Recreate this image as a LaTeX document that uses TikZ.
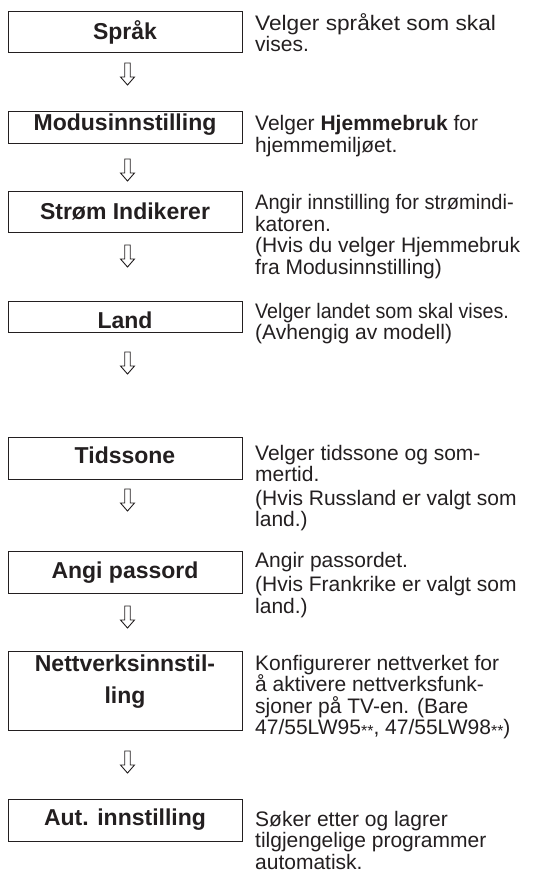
\documentclass[tikz,border=0pt]{standalone}
\usepackage{graphicx}
\usepackage{fontspec}
\setmainfont{Liberation Sans}
\definecolor{ink}{RGB}{35,31,32}
\newcommand\dline[1]{\hbox{#1}}
\newcommand\sx[2]{\scalebox{#1}[1]{#2}}
\newcommand\descfont{\fontsize{21}{21.5}\selectfont}
\newcommand\stars{\raisebox{-2pt}{\fontsize{16}{16}\selectfont **}}
\tikzset{
  stepbox/.style={draw=ink, line width=0.9pt, minimum width=234pt, inner sep=0pt},
  steplabel/.style={anchor=base, inner sep=0pt, text=ink,
    font=\fontsize{23}{32}\selectfont\bfseries},
  desc/.style={anchor=base west, inner sep=0pt, text=ink},
  downarr/.pic={\draw[ink, line width=0.9pt, line join=miter]
    (-2.75,-11) -- (2.75,-11) -- (2.75,3) -- (7,3) -- (0,11) -- (-7,3) -- (-2.75,3) -- cycle;}
}
\begin{document}
\begin{tikzpicture}[x=1pt,y=-1pt]
\useasboundingbox (0,0) rectangle (540,877);
% boxes
\node[stepbox, minimum height=41pt] (b1) at (125,31.5) {};
\node[stepbox, minimum height=32pt] (b2) at (125,127) {};
\node[stepbox, minimum height=41pt] (b3) at (125,211.5) {};
\node[stepbox, minimum height=31pt] (b4) at (125,316.5) {};
\node[stepbox, minimum height=42pt] (b5) at (125,458) {};
\node[stepbox, minimum height=42pt] (b6) at (125,572) {};
\node[stepbox, minimum height=79pt] (b7) at (125,690.5) {};
\node[stepbox, minimum height=42pt] (b8) at (125,820) {};
% box labels
\node[steplabel] (l1) at (125,39.5) {Språk};
\node[steplabel] (l2) at (125,130.7) {Modusinnstilling};
\node[steplabel] (l3) at (125,220) {Strøm Indikerer};
\node[steplabel] (l4) at (125,328.3) {Land};
\node[steplabel] (l5) at (125,463.3) {Tidssone};
\node[steplabel] (l6) at (125,578.3) {Angi passord};
\node[steplabel] (l7a) at (125,671) {Nettverksinnstil-};
\node[steplabel] (l7b) at (125,703) {ling};
\node[steplabel] (l8) at (125,825) {Aut. innstilling};
% arrows
\pic (a1) at (127.5,74) {downarr};
\pic (a2) at (127.5,170) {downarr};
\pic (a3) at (127.5,256) {downarr};
\pic (a4) at (127.5,363) {downarr};
\pic (a5) at (127.5,500) {downarr};
\pic (a6) at (127.5,617) {downarr};
\pic (a7) at (127.5,762) {downarr};
% descriptions
\node[desc] (d1) at (255,30.5) {\vtop{\descfont
  \dline{\sx{1.08}{Velger språket som skal}}\dline{vises.}}};
\node[desc] (d2) at (255,131) {\vtop{\descfont
  \dline{Velger \textbf{Hjemmebruk} for}\dline{hjemmemiljøet.}}};
\node[desc] (d3) at (255,210) {\vtop{\descfont
  \dline{\sx{0.955}{Angir innstilling for strømindi-}}\dline{katoren.}
  \dline{(Hvis du velger Hjemmebruk}\dline{fra Modusinnstilling)}}};
\node[desc] (d4) at (255,318) {\vtop{\descfont
  \dline{\sx{0.937}{Velger landet som skal vises.}}\dline{(Avhengig av modell)}}};
\node[desc] (d5) at (255,460) {\vtop{\descfont
  \dline{Velger tidssone og som-}\dline{mertid.}\vskip2pt
  \dline{(Hvis Russland er valgt som}\dline{land.)}}};
\node[desc] (d6) at (255,567) {\vtop{\descfont
  \dline{Angir passordet.}\vskip3pt
  \dline{(Hvis Frankrike er valgt som}\dline{land.)}}};
\node[desc] (d7) at (255,670) {\vtop{\descfont
  \dline{Konfigurerer nettverket for}\dline{å aktivere nettverksfunk-}
  \dline{sjoner på TV-en. (Bare}\dline{47/55LW95\stars, 47/55LW98\stars)}}};
\node[desc] (d8) at (255,826) {\vtop{\descfont
  \dline{Søker etter og lagrer}\dline{tilgjengelige programmer}\dline{automatisk.}}};
\end{tikzpicture}
\end{document}
